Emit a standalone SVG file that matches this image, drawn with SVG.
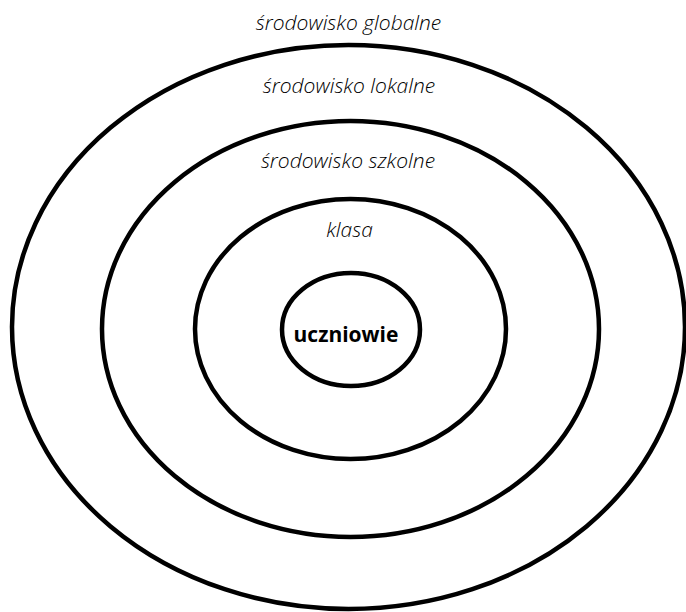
<svg xmlns="http://www.w3.org/2000/svg" width="686" height="612" viewBox="0 0 686 612">
  <style>
    .ring { fill: none; stroke: #000; stroke-width: 4.5; }
    .lbl { font-family: "Open Sans", "Liberation Sans", sans-serif; font-style: italic; font-weight: 300; font-size: 21px; fill: #000; text-anchor: middle; }
    .core { font-family: "Open Sans", "Liberation Sans", sans-serif; font-weight: 700; font-size: 21px; fill: #000; text-anchor: middle; }
  </style>
  <rect width="686" height="612" fill="#fff"/>
  <g id="globalne">
    <ellipse class="ring" cx="348.5" cy="327" rx="336.5" ry="282"/>
    <text class="lbl" x="348.5" y="30">środowisko globalne</text>
  </g>
  <g id="lokalne">
    <ellipse class="ring" cx="350.5" cy="329" rx="248.5" ry="208"/>
    <text class="lbl" x="349" y="93">środowisko lokalne</text>
  </g>
  <g id="szkolne">
    <ellipse class="ring" cx="350.5" cy="329" rx="155.5" ry="130"/>
    <text class="lbl" x="348" y="168">środowisko szkolne</text>
  </g>
  <g id="klasa">
    <text class="lbl" x="349.5" y="237">klasa</text>
  </g>
  <g id="uczniowie">
    <ellipse class="ring" cx="351" cy="329.5" rx="69" ry="56.5"/>
    <text class="core" x="346" y="342">uczniowie</text>
  </g>
  <g id="connectors"/>
</svg>
